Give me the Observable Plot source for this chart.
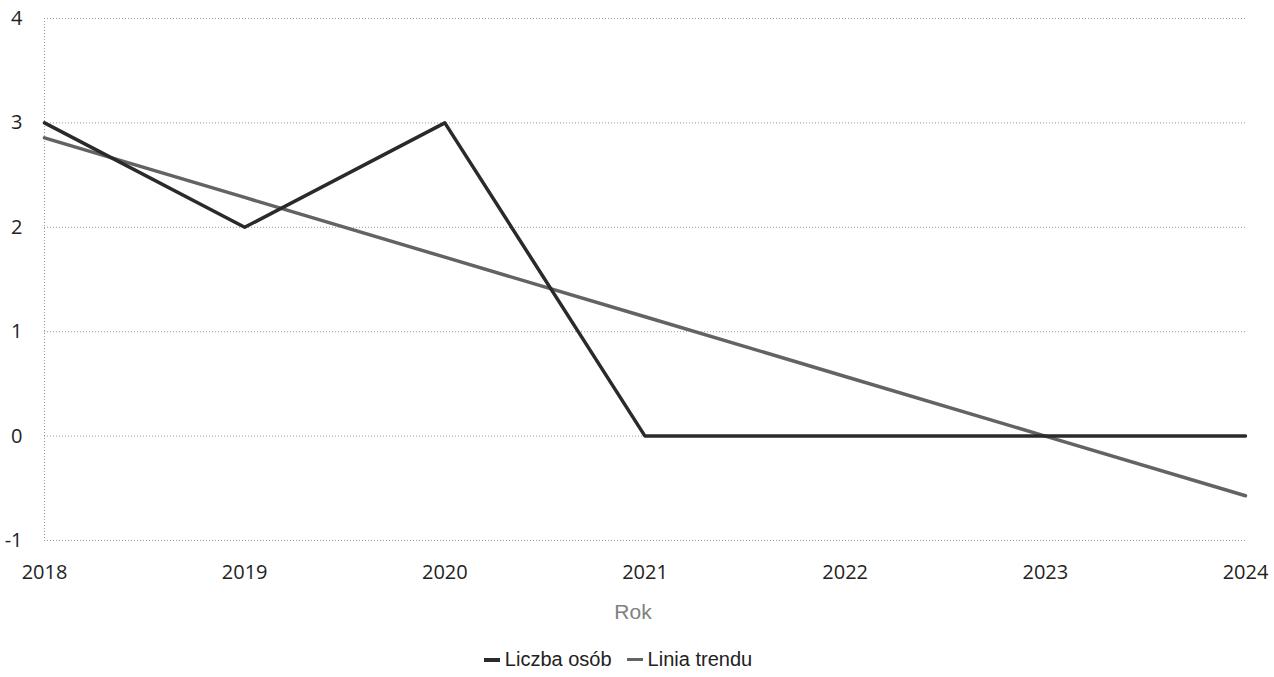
<!DOCTYPE html>
<html>
<head>
<meta charset="utf-8">
<script src="https://cdn.jsdelivr.net/npm/d3@7"></script>
<script src="https://cdn.jsdelivr.net/npm/@observablehq/plot@0.6"></script>
<style>
  body { margin: 0; background: #fff; }
  #legend { display: flex; justify-content: center; gap: 15px; font-family: "Liberation Sans", Arial, sans-serif; font-size: 20px; color: #222; margin-top: 16px; padding-right: 38px; }
  .item { display: flex; align-items: center; gap: 5px; }
  .sw { display: inline-block; width: 16px; }
</style>
</head>
<body>
<div id="chart"></div>
<div id="legend"></div>
<script>
const years = [2018, 2019, 2020, 2021, 2022, 2023, 2024];
const liczbaOsob = [3, 2, 3, 0, 0, 0, 0];
const liniaTrendu = [2.857, 2.286, 1.714, 1.143, 0.571, 0.0, -0.571];
const yTicks = [-1, 0, 1, 2, 3, 4];
const seriesNames = ["Liczba osób", "Linia trendu"];
const seriesColors = ["#2a2a2a", "#636363"];

const rows1 = years.map((y, i) => ({year: y, value: liczbaOsob[i]}));
const rows2 = years.map((y, i) => ({year: y, value: liniaTrendu[i]}));

const plot = Plot.plot({
  width: 1274,
  height: 632,
  marginLeft: 44,
  marginRight: 29,
  marginTop: 18,
  marginBottom: 92,
  style: {fontFamily: "'Open Sans', 'Noto Sans', sans-serif", fontSize: "20px", color: "#222", background: "#fff"},
  x: {domain: [2018, 2024], ticks: years, tickFormat: d => String(d), tickSize: 0, tickPadding: 24, label: null},
  y: {domain: [-1, 4], ticks: yTicks, tickFormat: d => String(d), tickSize: 0, tickPadding: 22, label: null},
  marks: [
    Plot.ruleY(yTicks, {stroke: "#999", strokeDasharray: "1,2", strokeWidth: 1}),
    Plot.ruleX([2018], {stroke: "#999", strokeDasharray: "1,2", strokeWidth: 1}),
    Plot.line(rows2, {x: "year", y: "value", stroke: seriesColors[1], strokeWidth: 3.5}),
    Plot.line(rows1, {x: "year", y: "value", stroke: seriesColors[0], strokeWidth: 3.5}),
    Plot.text(["Rok"], {frameAnchor: "bottom", dy: 78, dx: -12, fill: "#808080", fontSize: 21, fontFamily: "'Liberation Sans', Arial, sans-serif"})
  ]
});
document.getElementById("chart").appendChild(plot);

const legend = document.getElementById("legend");
seriesNames.forEach((n, i) => {
  const it = document.createElement("span");
  it.className = "item";
  const sw = document.createElement("span");
  sw.className = "sw";
  sw.style.height = i === 0 ? "4px" : "3px";
  sw.style.background = seriesColors[i];
  it.appendChild(sw);
  it.appendChild(document.createTextNode(n));
  legend.appendChild(it);
});
</script>
</body>
</html>
